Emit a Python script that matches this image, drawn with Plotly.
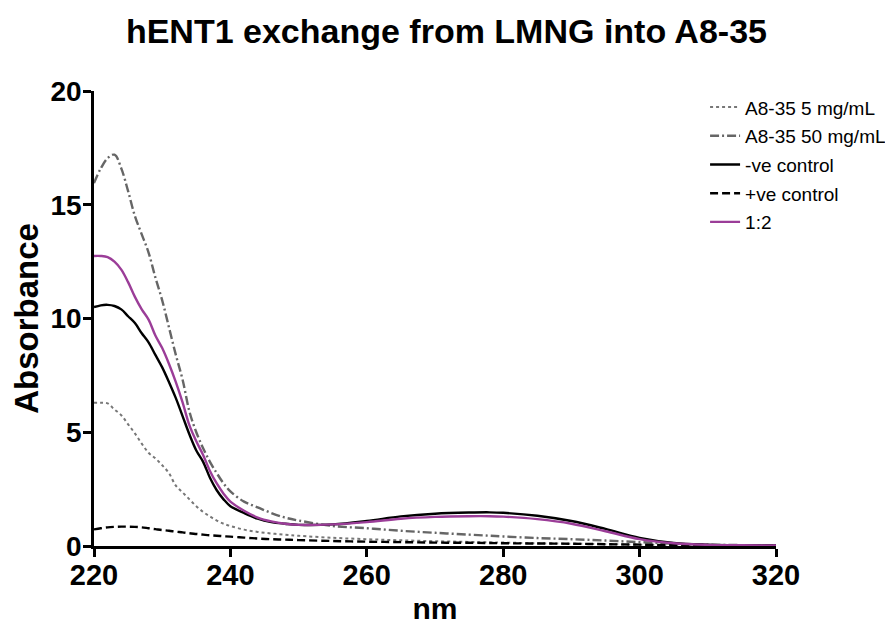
import plotly.graph_objects as go

wavelength = [220,221,222,223,224,225,226,227,228,229,230,231,232,233,234,235,236,237,238,239,240,
              242,244,246,248,250,255,260,265,270,275,278,280,285,290,295,300,305,310,315,320]

a835_5 = [6.3,6.3,6.27,6.0,5.75,5.35,4.95,4.5,4.1,3.85,3.55,3.2,2.65,2.35,2.05,1.75,1.5,1.3,1.12,0.98,0.88,
          0.72,0.62,0.55,0.5,0.45,0.36,0.3,0.25,0.21,0.18,0.16,0.15,0.12,0.1,0.08,0.06,0.04,0.03,0.02,0.02]

a835_50 = [15.95,16.6,17.05,17.2,16.6,15.6,14.5,13.7,12.9,11.8,10.8,9.6,8.4,7.3,5.9,5.0,4.3,3.7,3.2,2.75,2.4,
           1.95,1.7,1.45,1.25,1.12,0.88,0.78,0.67,0.58,0.5,0.45,0.42,0.35,0.3,0.24,0.17,0.1,0.06,0.04,0.03]

neg_ctrl = [10.5,10.58,10.6,10.55,10.4,10.1,9.8,9.35,8.95,8.4,7.85,7.2,6.5,5.7,4.9,4.2,3.7,3.0,2.45,2.05,1.75,
            1.45,1.2,1.05,0.98,0.93,0.95,1.1,1.3,1.42,1.47,1.48,1.46,1.33,1.1,0.75,0.36,0.14,0.06,0.03,0.02]

pos_ctrl = [0.73,0.78,0.82,0.84,0.85,0.85,0.84,0.82,0.78,0.74,0.7,0.67,0.63,0.6,0.56,0.53,0.5,0.47,0.45,0.43,0.41,
            0.37,0.33,0.3,0.28,0.26,0.22,0.19,0.17,0.15,0.14,0.13,0.12,0.11,0.1,0.08,0.06,0.04,0.03,0.02,0.02]

ratio_1_2 = [12.75,12.75,12.7,12.5,12.15,11.6,10.95,10.4,9.95,9.25,8.7,8.0,7.2,6.3,5.3,4.6,4.0,3.3,2.75,2.3,1.95,
             1.55,1.25,1.08,0.98,0.93,0.95,1.05,1.2,1.28,1.31,1.31,1.29,1.18,0.98,0.65,0.3,0.12,0.05,0.03,0.02]

series_names = ["A8-35 5 mg/mL", "A8-35 50 mg/mL", "-ve control", "+ve control", "1:2"]
x_ticks = [220, 240, 260, 280, 300, 320]
y_ticks = [0, 5, 10, 15, 20]

styles = [
    dict(color="#777777", width=2, dash="dot"),
    dict(color="#666666", width=2.4, dash="9px,3px,2px,3px"),
    dict(color="#000000", width=2.4, dash="solid"),
    dict(color="#000000", width=2.4, dash="8px,4px"),
    dict(color="#9B3D98", width=2.4, dash="solid"),
]

fig = go.Figure()
for i, (name, ys) in enumerate(zip(series_names, [a835_5, a835_50, neg_ctrl, pos_ctrl, ratio_1_2])):
    fig.add_trace(go.Scatter(x=wavelength, y=ys, mode="lines", name=name, line=styles[i],
                             legendgroup=f"g{i}", line_shape="spline"))

font_family = "Liberation Sans, Arial, sans-serif"
fig.update_layout(
    width=893, height=626,
    plot_bgcolor="white", paper_bgcolor="white",
    margin=dict(l=86, r=125, t=83, b=88, autoexpand=False),
    title=dict(text="<b>hENT1 exchange from LMNG into A8-35</b>", x=0.491, xanchor="center",
               y=0.9625, yanchor="middle", font=dict(family=font_family, size=34, color="black")),
    font=dict(family=font_family, color="black"),
    legend=dict(x=0.896, y=1.006, xanchor="left", yanchor="top", bgcolor="rgba(0,0,0,0)",
                font=dict(size=19, family=font_family), tracegroupgap=1),
    showlegend=True,
)
fig.update_xaxes(range=[220, 320], tickvals=x_ticks, ticktext=[f"<b>{v}</b>" for v in x_ticks],
                 showline=True, linecolor="black", linewidth=2.5, ticks="outside", ticklen=8,
                 tickwidth=2.5, tickcolor="black", showgrid=False, zeroline=False, automargin=False,
                 tickfont=dict(size=29, family=font_family), ticklabelstandoff=-7,
                 title=dict(text="<b>nm</b>", font=dict(size=30, family=font_family), standoff=9))
fig.update_yaxes(range=[0, 20], tickvals=y_ticks, ticktext=[f"<b>{v}</b>" for v in y_ticks],
                 showline=True, linecolor="black", linewidth=2.5, ticks="outside", ticklen=8,
                 tickwidth=2.5, tickcolor="black", showgrid=False, zeroline=False, automargin=False,
                 tickfont=dict(size=28, family=font_family), ticklabelstandoff=-4,
                 title=dict(text="<b>Absorbance</b>", font=dict(size=33, family=font_family), standoff=6))

fig.write_html("out.html")
